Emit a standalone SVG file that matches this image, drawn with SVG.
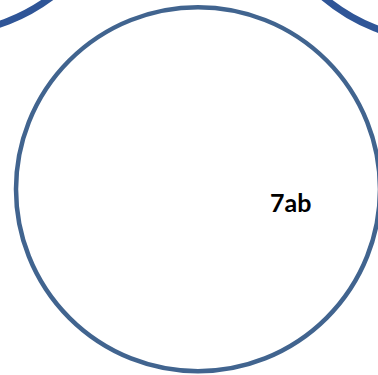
<svg xmlns="http://www.w3.org/2000/svg" width="378" height="375" viewBox="0 0 378 375">
<style>
.outer{fill:none;stroke:#2F5597;stroke-width:7}
.main{fill:none;stroke:#41648F;stroke-width:4.5}
.lbl{font-family:Lato,"Liberation Sans",sans-serif;font-weight:bold;font-size:25px;fill:#000}
</style>
<rect width="378" height="375" fill="#fff"/>
<g id="circle-left"><circle class="outer" cx="-59.6" cy="-151" r="185"/></g>
<g id="circle-right"><circle class="outer" cx="443" cy="-144" r="185"/></g>
<g id="circle-7ab">
<circle class="main" cx="198" cy="189.2" r="182"/>
<text class="lbl" x="270" y="211.7">7ab</text>
</g>
<g id="connectors"/>
</svg>
